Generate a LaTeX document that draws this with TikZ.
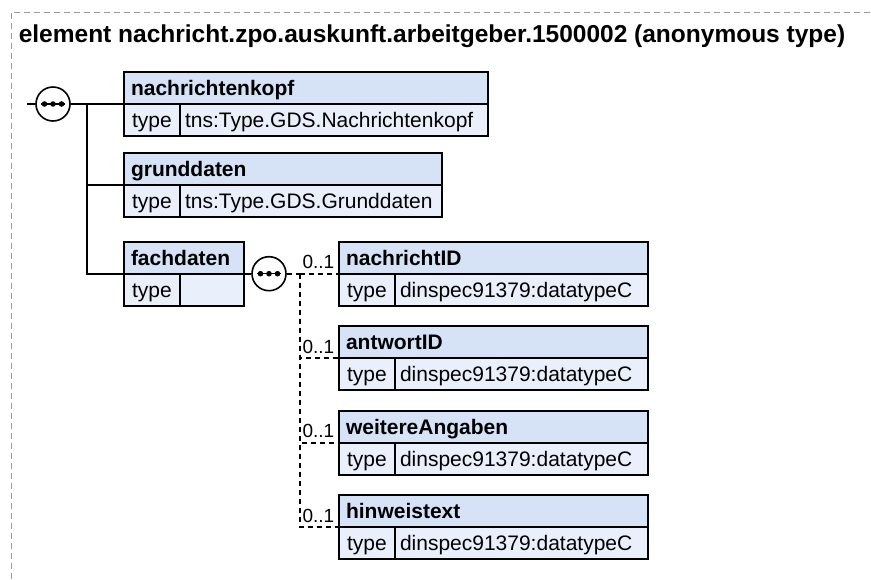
\documentclass[tikz,border=0pt]{standalone}
\usepackage{fontspec}
\setmainfont{Liberation Sans}
\usetikzlibrary{positioning}

\definecolor{hdfill}{HTML}{D6E3F7}
\definecolor{bdfill}{HTML}{EAF0FB}
\definecolor{framegray}{HTML}{9A9A9A}

\begin{document}
\begin{tikzpicture}[x=1pt, y=-1pt, line width=1.6pt,
  hd/.style={draw, fill=hdfill, anchor=north west, outer sep=0, minimum height=32,
    text height=17.5, text depth=2.5,
    inner xsep=7, inner ysep=0, align=left, font=\fontsize{21}{25}\selectfont\bfseries},
  tcell/.style={draw, fill=bdfill, anchor=north west, outer sep=0, minimum height=32,
    text height=17.5, text depth=2.5,
    minimum width=56, inner sep=0, font=\fontsize{21}{25}\selectfont},
  vcell/.style={draw, fill=bdfill, anchor=north west, outer sep=0, minimum height=32,
    text height=17.5, text depth=2.5,
    inner xsep=5, inner ysep=0, align=left, font=\fontsize{21}{25}\selectfont},
  seq/.style={draw, circle, fill=white, minimum size=34, inner sep=0},
  opt/.style={dash pattern=on 5pt off 4pt},
  card/.style={anchor=south east, inner sep=1, font=\fontsize{19}{21}\selectfont}]

  \useasboundingbox (0,0) rectangle (871,579);

  % Frame of the element
  \draw[framegray, line width=1pt, dash pattern=on 6pt off 4pt] (11,579) -- (11,12) -- (871,12);
  \node[anchor=base west, inner sep=0, font=\fontsize{24.5}{28}\selectfont\bfseries] (title)
    at (18,42) {element nachricht.zpo.auskunft.arbeitgeber.1500002 (anonymous type)};

  % Outer sequence
  \node[seq] (seq1) at (53,104) {};
  \coordinate (in1) at (27,104);
  \coordinate (bus1) at (87,104);

  % Elements of the sequence
  \node[hd, text width=350] (kopf) at (124,72) {nachrichtenkopf};
  \node[tcell] (kopf-t) at (kopf.south west) {type};
  \node[vcell, text width=298] (kopf-v) at (kopf-t.north east) {tns:Type.GDS.Nachrichtenkopf};

  \node[hd, text width=304] (grund) at (124,153) {grunddaten};
  \node[tcell] (grund-t) at (grund.south west) {type};
  \node[vcell, text width=252] (grund-v) at (grund-t.north east) {tns:Type.GDS.Grunddaten};

  \node[hd, text width=106] (fach) at (124,241.7) {fachdaten};
  \node[tcell] (fach-t) at (fach.south west) {type};
  \node[vcell, text width=54] (fach-v) at (fach-t.north east) {};

  \draw (in1) -- (seq1);
  \draw (seq1) -- (kopf.south west);
  \draw (bus1) |- (grund.south west);
  \draw (bus1) |- (fach.south west);

  % Inner sequence of fachdaten
  \node[seq] (seq2) at (269,273.7) {};
  \coordinate (bus2) at (300,273.7);
  \draw (fach.south east) -- (seq2);
  \draw[opt] (seq2) -- (bus2);

  \foreach \nm/\lbl/\i in {nid/nachrichtID/0, aid/antwortID/1, weit/weitereAngaben/2, hinw/hinweistext/3} {
    \node[hd, text width=295] (\nm) at (339, 241.7+84.5*\i) {\lbl};
    \node[tcell] (\nm-t) at (\nm.south west) {type};
    \node[vcell, text width=243] (\nm-v) at (\nm-t.north east) {dinspec91379:datatypeC};
    \draw[opt] (bus2) |- (\nm.south west);
    \node[card] at ([xshift=-3pt, yshift=3pt]\nm.south west) {0..1};
  }

  % Compositor dots
  \foreach \s in {seq1, seq2} {
    \draw[line width=1.2pt] ([xshift=-12pt]\s.center) -- ([xshift=12pt]\s.center);
    \foreach \dx in {-8.5, 0, 8.5}
      \fill ([xshift=\dx pt]\s.center) circle (2.8pt);
  }
\end{tikzpicture}
\end{document}
